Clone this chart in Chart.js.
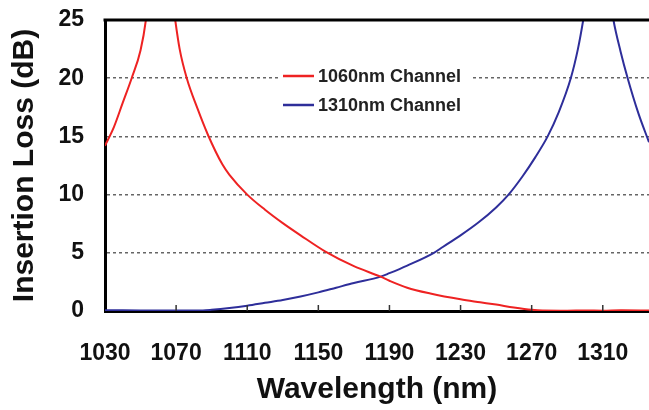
<!DOCTYPE html>
<html>
<head>
<meta charset="utf-8">
<script src="https://cdn.jsdelivr.net/npm/chart.js@4"></script>
<style>
  html, body { margin: 0; padding: 0; background: #fff; }
  #wrap { width: 649px; height: 410px; position: relative; }
</style>
</head>
<body>
<div id="wrap"><canvas id="chart"></canvas></div>
<script>
// values
const xTicks = [1030, 1070, 1110, 1150, 1190, 1230, 1270, 1310];
const yTicks = [0, 5, 10, 15, 20, 25];

const redLabel = "1060nm Channel";
const redWl = [1030, 1035, 1040, 1045, 1050, 1053, 1055, 1067, 1069.5, 1072, 1076, 1082, 1088, 1096, 1100, 1110, 1120, 1130, 1140, 1154, 1170, 1185, 1190, 1200, 1213, 1230, 1241, 1250, 1260, 1270, 1276, 1290, 1300, 1310, 1320, 1336];
const redLoss = [14.2, 15.8, 17.9, 20, 22.4, 25, 28, 28, 25, 22.5, 20, 17.4, 15.1, 12.6, 11.7, 10, 8.7, 7.55, 6.5, 5.1, 3.85, 2.95, 2.6, 2.0, 1.5, 1.0, 0.75, 0.55, 0.3, 0.1, 0.04, 0.03, 0.04, 0.03, 0.06, 0.05];

const blueLabel = "1310nm Channel";
const blueWl = [1030, 1050, 1070, 1085, 1090, 1100, 1110, 1120, 1130, 1140, 1150, 1160, 1170, 1185, 1190, 1200, 1215, 1220, 1230, 1240, 1250, 1257, 1265, 1272, 1279, 1285, 1292, 1296, 1299, 1302, 1313, 1316, 1320, 1324, 1330, 1336];
const blueLoss = [0.06, 0.05, 0.04, 0.05, 0.1, 0.25, 0.45, 0.7, 0.95, 1.25, 1.6, 2.0, 2.4, 2.95, 3.25, 3.9, 5, 5.5, 6.5, 7.6, 8.9, 10, 11.6, 13.2, 15, 17.0, 20, 22.5, 25, 28, 28, 25, 22.3, 20, 17, 14.5];

const redColor = "#ee2222";
const blueColor = "#2e2e9a";
const font = "'Liberation Sans', Arial, sans-serif";

const toPoints = (xs, ys) => xs.map((x, i) => ({ x: x, y: ys[i] }));

// frame top line, small inner ticks on the x axis, and the boxed legend
const extras = {
  id: "extras",
  afterDraw(chart) {
    const ctx = chart.ctx;
    const a = chart.chartArea;
    const xs = chart.scales.x;
    ctx.save();
    ctx.strokeStyle = "#000";
    ctx.lineWidth = 3;
    ctx.beginPath();
    ctx.moveTo(a.left - 1.5, a.top);
    ctx.lineTo(a.right, a.top);
    ctx.stroke();

    ctx.lineWidth = 1.5;
    ctx.strokeStyle = "#333";
    xTicks.slice(1).forEach(t => {
      const px = xs.getPixelForValue(t);
      ctx.beginPath();
      ctx.moveTo(px, a.bottom);
      ctx.lineTo(px, a.bottom - 6);
      ctx.stroke();
    });

    // legend
    const ds = chart.data.datasets;
    const lx = 283, ly = 76, row = 29;
    ctx.fillStyle = "#fff";
    ctx.fillRect(lx - 4, ly - 12, 192, row + 26);
    ctx.font = "bold 18px " + font;
    ctx.textBaseline = "middle";
    ds.forEach((d, i) => {
      const y = ly + i * row;
      ctx.strokeStyle = d.borderColor;
      ctx.lineWidth = 2.5;
      ctx.beginPath();
      ctx.moveTo(lx, y);
      ctx.lineTo(lx + 31, y);
      ctx.stroke();
      ctx.fillStyle = "#222";
      ctx.fillText(d.label, lx + 35, y + 1);
    });
    ctx.restore();
  }
};

new Chart(document.getElementById("chart"), {
  type: "line",
  data: {
    datasets: [
      {
        label: redLabel,
        data: toPoints(redWl, redLoss),
        borderColor: redColor,
        borderWidth: 2,
        pointRadius: 0,
        cubicInterpolationMode: "monotone"
      },
      {
        label: blueLabel,
        data: toPoints(blueWl, blueLoss),
        borderColor: blueColor,
        borderWidth: 2,
        pointRadius: 0,
        cubicInterpolationMode: "monotone"
      }
    ]
  },
  options: {
    responsive: true,
    maintainAspectRatio: false,
    animation: false,
    layout: { padding: { top: 20, right: 0, left: 0, bottom: 0 } },
    plugins: {
      legend: { display: false },
      tooltip: { enabled: false }
    },
    scales: {
      x: {
        type: "linear",
        min: 1030,
        max: 1336,
        afterBuildTicks: s => { s.ticks = xTicks.map(v => ({ value: v })); },
        afterFit: s => { s.height = 99; s.paddingLeft = 0; s.paddingRight = 0; },
        grid: { display: false, drawTicks: false },
        border: { display: true, color: "#000", width: 3 },
        ticks: {
          padding: 29,
          color: "#111",
          maxRotation: 0,
          autoSkip: false,
          callback: v => String(v),
          font: { family: font, size: 23, weight: "bold" }
        },
        title: {
          display: true,
          text: "Wavelength (nm)",
          color: "#111",
          padding: { top: 0, bottom: 2 },
          font: { family: font, size: 30, weight: "bold" }
        }
      },
      y: {
        min: 0,
        max: 25,
        afterBuildTicks: s => { s.ticks = yTicks.map(v => ({ value: v })); },
        afterFit: s => { s.width = 105; s.paddingTop = 0; s.paddingBottom = 0; },
        grid: { color: "#666", lineWidth: 1.5, drawTicks: false },
        border: { display: true, color: "#000", width: 3, dash: [3, 3] },
        ticks: {
          padding: 21,
          color: "#111",
          callback: v => String(v),
          font: { family: font, size: 23, weight: "bold" }
        },
        title: {
          display: true,
          text: "Insertion Loss (dB)",
          color: "#111",
          padding: { top: 7, bottom: 0 },
          font: { family: font, size: 30, weight: "bold" }
        }
      }
    }
  },
  plugins: [extras]
});
</script>
</body>
</html>
